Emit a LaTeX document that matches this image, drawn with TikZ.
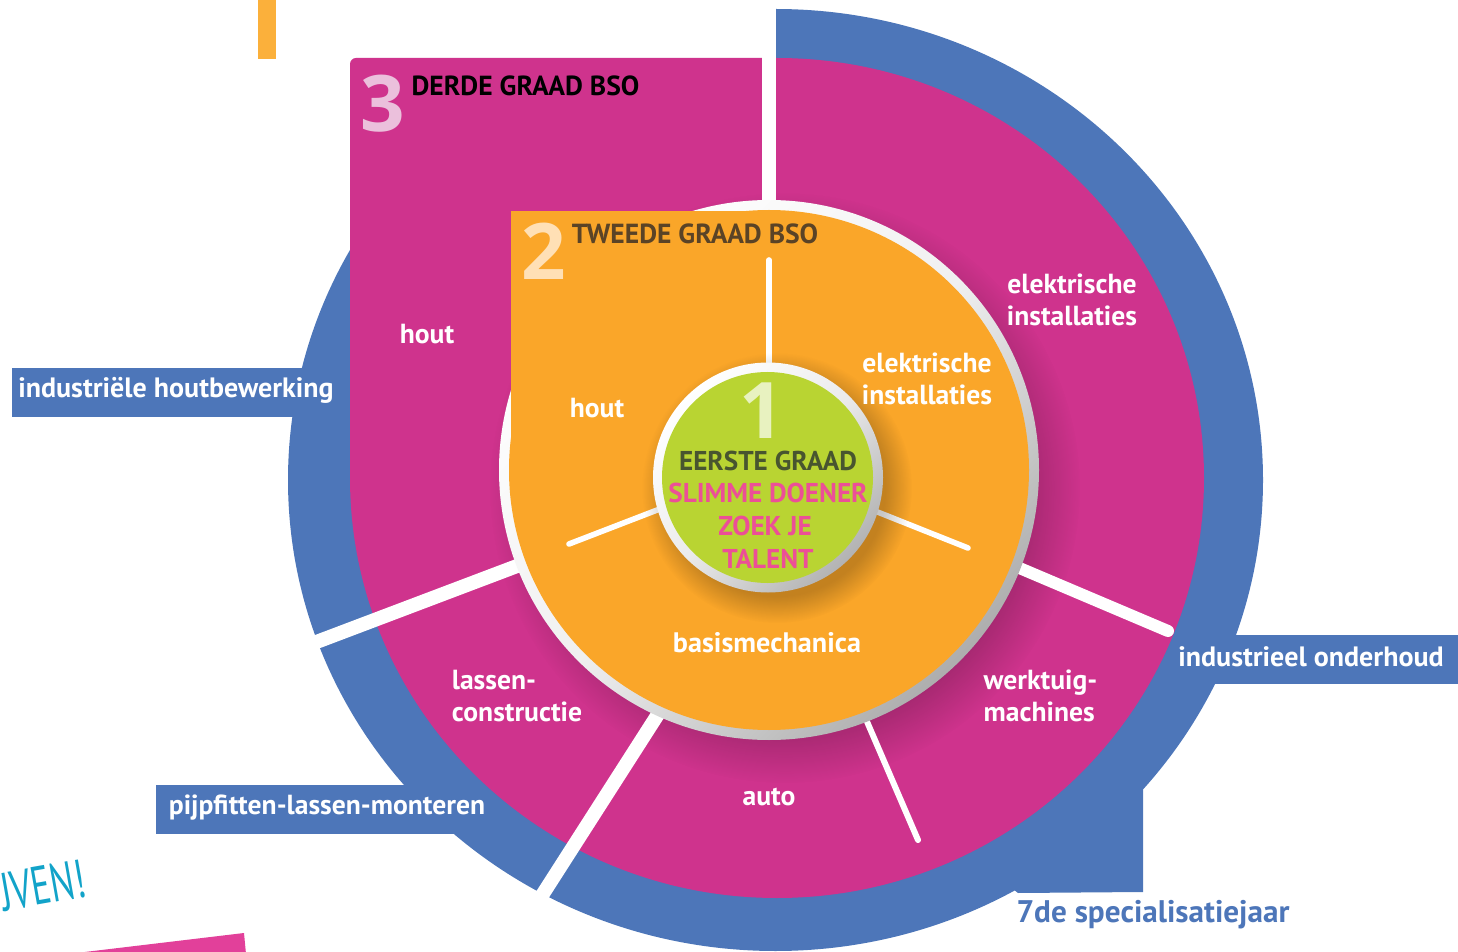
\documentclass[tikz,border=0pt]{standalone}
\usepackage{fontspec}
\setmainfont{PT Sans}[BoldFont={PT Sans Bold}]
\newfontfamily\numfont{Open Sans}[BoldFont={Open Sans Bold}]
\usetikzlibrary{fadings,calc}
\definecolor{ringblue}{HTML}{4D76B9}
\definecolor{ringpink}{HTML}{CF338D}
\definecolor{ringorange}{HTML}{FAA629}
\definecolor{coregreen}{HTML}{B9D432}
\definecolor{corepink}{HTML}{EC4F97}
\definecolor{coredark}{HTML}{48552F}
\definecolor{headbrown}{HTML}{5A4326}
\definecolor{barorange}{HTML}{FBB03B}
\definecolor{wedgepink}{HTML}{E2409A}
\definecolor{scribble}{HTML}{12A3C9}
\tikzset{
  x=0.5pt,y=-0.5pt,
  lab/.style={text=white,inner sep=0pt,align=#1,font=\fontsize{13.8}{16}\selectfont\bfseries},
  lab/.default=center,
  tag/.style={text=white,inner sep=0pt,font=\fontsize{14}{16}\selectfont\bfseries},
  core/.style={text=corepink,inner sep=0pt,font=\fontsize{13.6}{16}\selectfont\bfseries},
  bignum/.style={inner sep=0pt,font=\fontsize{39}{40}\selectfont\numfont\bfseries},
  head/.style={inner sep=0pt,font=\fontsize{13.8}{16}\selectfont\bfseries},
  gap/.style={draw=white,line width=#1},
  gap/.default=7pt,
}
\begin{document}
\begin{tikzpicture}
\useasboundingbox (0,0) rectangle (1458,952);
% outer blue ring
\fill[ringblue] (775.5,480) ellipse [x radius=487.5,y radius=471];
\fill[ringblue] (1143,780) -- (1143,892) -- (1018,893) -- (900,800) -- cycle;
\fill[white] (350,-2) rectangle (776,58);
% tag boxes
\fill[ringblue] (12,368) rectangle (340,417);
\fill[ringblue] (1160,635) rectangle (1458,684);
\fill[ringblue] (156,785) rectangle (480,834);
% pink area
\fill[ringpink] (777,478) ellipse [x radius=427,y radius=420];
\fill[ringpink] (350,478) [rounded corners=3pt] -- (350,58) [sharp corners] -- (762,58) -- (762,478) -- cycle;
% soft shadow of the orange disc on pink
\fill[black,opacity=.22,path fading=circle with fuzzy edge 20 percent] (785,488) circle [radius=295];
% white gaps between the sectors
\coordinate (hub) at (769,470);
\coordinate (topA) at (769,-2);
\coordinate (topB) at (769,210);
\coordinate (leftA) at (525,563);
\coordinate (leftB) at (290,652);
\coordinate (lowA) at (662,708);
\coordinate (lowB) at (532,911);
\coordinate (midA) at (862,710);
\coordinate (midB) at (918,840);
\coordinate (rightA) at (1010,564);
\coordinate (rightB) at (1168,631);
\draw[gap] (topA) -- (topB);
\draw[gap] (leftA) -- (leftB);
\draw[gap] (lowA) -- (lowB);
\draw[gap=3pt,line cap=round] (midA) -- (midB);
\draw[gap=6pt,line cap=round] (rightA) -- (rightB);
% ring around orange disc
\shade[top color=white,bottom color=black!32,middle color=black!6,shading angle=45] (hub) circle [radius=270];
% orange area
\fill[ringorange] (hub) circle [radius=260];
\fill[ringorange] (511,211) rectangle (769,470);
% inner spokes
\coordinate (spTopA) at (769,260);
\coordinate (spTopB) at (769,370);
\coordinate (spLeftA) at (569,544);
\coordinate (spLeftB) at (665,507);
\coordinate (spRightA) at (968,548);
\coordinate (spRightB) at (870,509);
\draw[gap=2.8pt,line cap=round] (spTopA) -- (spTopB);
\draw[gap=2.8pt,line cap=round] (spLeftA) -- (spLeftB);
\draw[gap=2.8pt,line cap=round] (spRightA) -- (spRightB);
% core disc
\fill[black,opacity=.22,path fading=circle with fuzzy edge 20 percent] (777,488) circle [radius=135];
\shade[top color=white,bottom color=black!30,middle color=black!8,shading angle=45] (768,477.5) circle [radius=115];
\fill[coregreen] (767.5,477.5) circle [radius=105.5];
% decoration
\fill[barorange] (258,-2) rectangle (276,59);
\fill[wedgepink] (68,954) -- (244,933) -- (246,954) -- cycle;
% texts
\node[bignum] (n3) at (383,104) {\textcolor[HTML]{EBC0DC}{3}};
\node[bignum] (n2) at (544,251) {\textcolor[HTML]{FFE0B5}{2}};
\node[bignum] (n1) at (762,411) {\textcolor[HTML]{E8F2C0}{1}};
\node[head,text=black] (h3) at (525.5,86) {DERDE GRAAD BSO};
\node[head,text=headbrown] (h2) at (695,234) {TWEEDE GRAAD BSO};
\node[core,text=coredark] (c1) at (768,461) {EERSTE GRAAD};
\node[core] (c2) at (768,493) {SLIMME DOENER};
\node[core] (c3) at (765,526) {ZOEK JE};
\node[core] (c4) at (768,559) {TALENT};
\node[lab] (o1) at (597,408) {hout};
\node[lab] (o2) at (927,379) {elektrische\\installaties};
\node[lab,font=\fontsize{14.1}{16}\selectfont\bfseries] (o3) at (767,643) {basismechanica};
\node[lab] (p1) at (427,334) {hout};
\node[lab] (p2) at (1072,299.5) {elektrische\\installaties};
\node[lab=left] (p3) at (517,696) {lassen-\\constructie};
\node[lab] (p4) at (769,796.5) {auto};
\node[lab=left] (p5) at (1040.5,696) {werktuig-\\machines};
\node[tag] (t1) at (176,390) {industriële houtbewerking};
\node[tag] (t2) at (1311,657) {industrieel onderhoud};
\node[tag,font=\fontsize{13.8}{16}\selectfont\bfseries] (t3) at (327,808) {pijpfitten-lassen-monteren};
\node[tag,text=ringblue,font=\fontsize{15.6}{16}\selectfont\bfseries] (t4) at (1153,915) {7de specialisatiejaar};
\node[inner sep=0pt,text=scribble,rotate=10,font=\fontsize{20}{20}\selectfont] (s1) at (43,885) {\scalebox{0.9}[1.35]{JVEN!}};
\end{tikzpicture}
\end{document}
